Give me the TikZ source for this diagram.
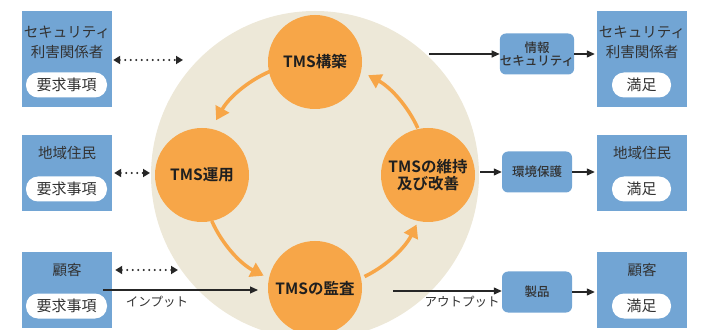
\documentclass[tikz,border=0pt]{standalone}
\usepackage{fontspec}
\newfontfamily\jp{Noto Sans CJK JP}
\newfontfamily\jpb{Noto Sans CJK JP Bold}
\newfontfamily\jpm{Noto Sans CJK JP Medium}
\usetikzlibrary{arrows.meta,calc}
\definecolor{boxblue}{RGB}{114,165,212}
\definecolor{cyorange}{RGB}{247,166,72}
\definecolor{beige}{RGB}{237,232,216}
\definecolor{txt}{RGB}{50,50,50}
\begin{document}
\begin{tikzpicture}[x=1pt,y=1pt,
  party/.style={fill=boxblue,minimum width=90pt,inner sep=0pt},
  pill/.style={fill=white,rounded corners=12pt,minimum height=25pt,inner sep=0pt,font=\jp\fontsize{15}{17}\selectfont,text=txt},
  ttl/.style={font=\jp\fontsize{14.5}{20}\selectfont,text=txt,align=center,inner sep=0pt},
  stage/.style={circle,fill=cyorange,minimum size=94pt,inner sep=0pt,font=\jpb\fontsize{15.5}{20}\selectfont,text=black!88,align=center},
  mid/.style={fill=boxblue,rounded corners=6pt,minimum width=70pt,minimum height=41pt,inner sep=0pt,font=\jpm\fontsize{12.5}{15}\selectfont,text=txt,align=center},
  dots/.style={line width=2.3pt,dash pattern=on 0pt off 5.5pt,line cap=round,{Triangle[length=7pt,width=8pt]}-{Triangle[length=7pt,width=8pt]},black!85},
  flow/.style={line width=1.2pt,-{Triangle[length=8pt,width=7pt]},black!85},
  cyc/.style={line width=3.5pt,cyorange,-{Triangle[length=13pt,width=15pt]}},
  lbl/.style={font=\jp\fontsize{12.5}{14}\selectfont,text=txt,inner sep=0pt}
]
\useasboundingbox (0,0) rectangle (711,329);
\coordinate (C) at (315,154);
\fill[beige] (C) circle (164);

% stages
\node[stage] (kochiku) at ($(C)+(90:113)$) {TMS構築};
\node[stage] (unyo) at ($(C)+(180:113)$) {TMS運用};
\node[stage] (kansa) at ($(C)+(270:113)$) {TMSの監査};
\node[stage] (iji) at ($(C)+(0:113)$) {TMSの維持\\[-3pt]及び改善};

% cycle arrows
\draw[cyc] ([shift={(113:113)}]C) arc[start angle=113,end angle=151,radius=113];
\draw[cyc] ([shift={(204:113)}]C) arc[start angle=204,end angle=243,radius=113];
\draw[cyc] ([shift={(296:113)}]C) arc[start angle=296,end angle=334,radius=113];
\draw[cyc] ([shift={(24.5:113)}]C) arc[start angle=24.5,end angle=62,radius=113];

% left parties
\node[party,minimum height=96pt] (L1) at (67,270) {};
\node[party,minimum height=76pt] (L2) at (67,156) {};
\node[party,minimum height=76pt] (L3) at (67,39) {};
\node[ttl] (L1t) at (67,287) {セキュリティ\\利害関係者};
\node[ttl] (L2t) at (67,176) {地域住民};
\node[ttl] (L3t) at (67,59) {顧客};
\node[pill,minimum width=81pt] (L1p) at (66.5,244) {要求事項};
\node[pill,minimum width=81pt] (L2p) at (66.5,140) {要求事項};
\node[pill,minimum width=81pt] (L3p) at (66.5,23) {要求事項};

% right parties
\node[party,minimum height=96pt] (R1) at (642,270) {};
\node[party,minimum height=76pt] (R2) at (642,156) {};
\node[party,minimum height=76pt] (R3) at (642,39) {};
\node[ttl] (R1t) at (642,287) {セキュリティ\\利害関係者};
\node[ttl] (R2t) at (642,176) {地域住民};
\node[ttl] (R3t) at (642,59) {顧客};
\node[pill,minimum width=59pt] (R1p) at (641.5,244) {満足};
\node[pill,minimum width=59pt] (R2p) at (641.5,140) {満足};
\node[pill,minimum width=59pt] (R3p) at (641.5,23) {満足};

% middle right boxes
\node[mid] (M1) at (537,275) {情報\\[-2pt]セキュリティ};
\node[mid] (M2) at (537,157) {環境保護};
\node[mid] (M3) at (537,37) {製品};

% dotted arrows
\coordinate (d1) at (183,269);
\coordinate (d2) at (150,156);
\coordinate (d3) at (178,59);
\draw[dots] (L1.east |- d1) ++(1,0) -- (d1);
\draw[dots] (L2.east |- d2) ++(2,0) -- (d2);
\draw[dots] (L3.east |- d3) ++(3,0) -- (d3);

% input / output
\coordinate (inS) at (103,39);
\coordinate (inE) at (258,39);
\draw[flow] (inS) -- (inE);
\node[lbl] (inL) at (157,27) {インプット};
\coordinate (outS) at (393,38);
\draw[flow] (outS) -- (M3.west |- outS);
\node[lbl] (outL) at (462,27) {アウトプット};

\coordinate (s1) at (429,275);
\draw[flow] (s1) -- (M1.west);
\coordinate (s2) at (480,157);
\draw[flow] (s2) -- (M2.west);
\draw[flow,shorten >=2pt] (M1.east) -- (R1.west |- M1.east);
\draw[flow,shorten >=2pt] (M2.east) -- (R2.west |- M2.east);
\draw[flow,shorten >=2pt] (M3.east) -- (R3.west |- M3.east);
\end{tikzpicture}
\end{document}
